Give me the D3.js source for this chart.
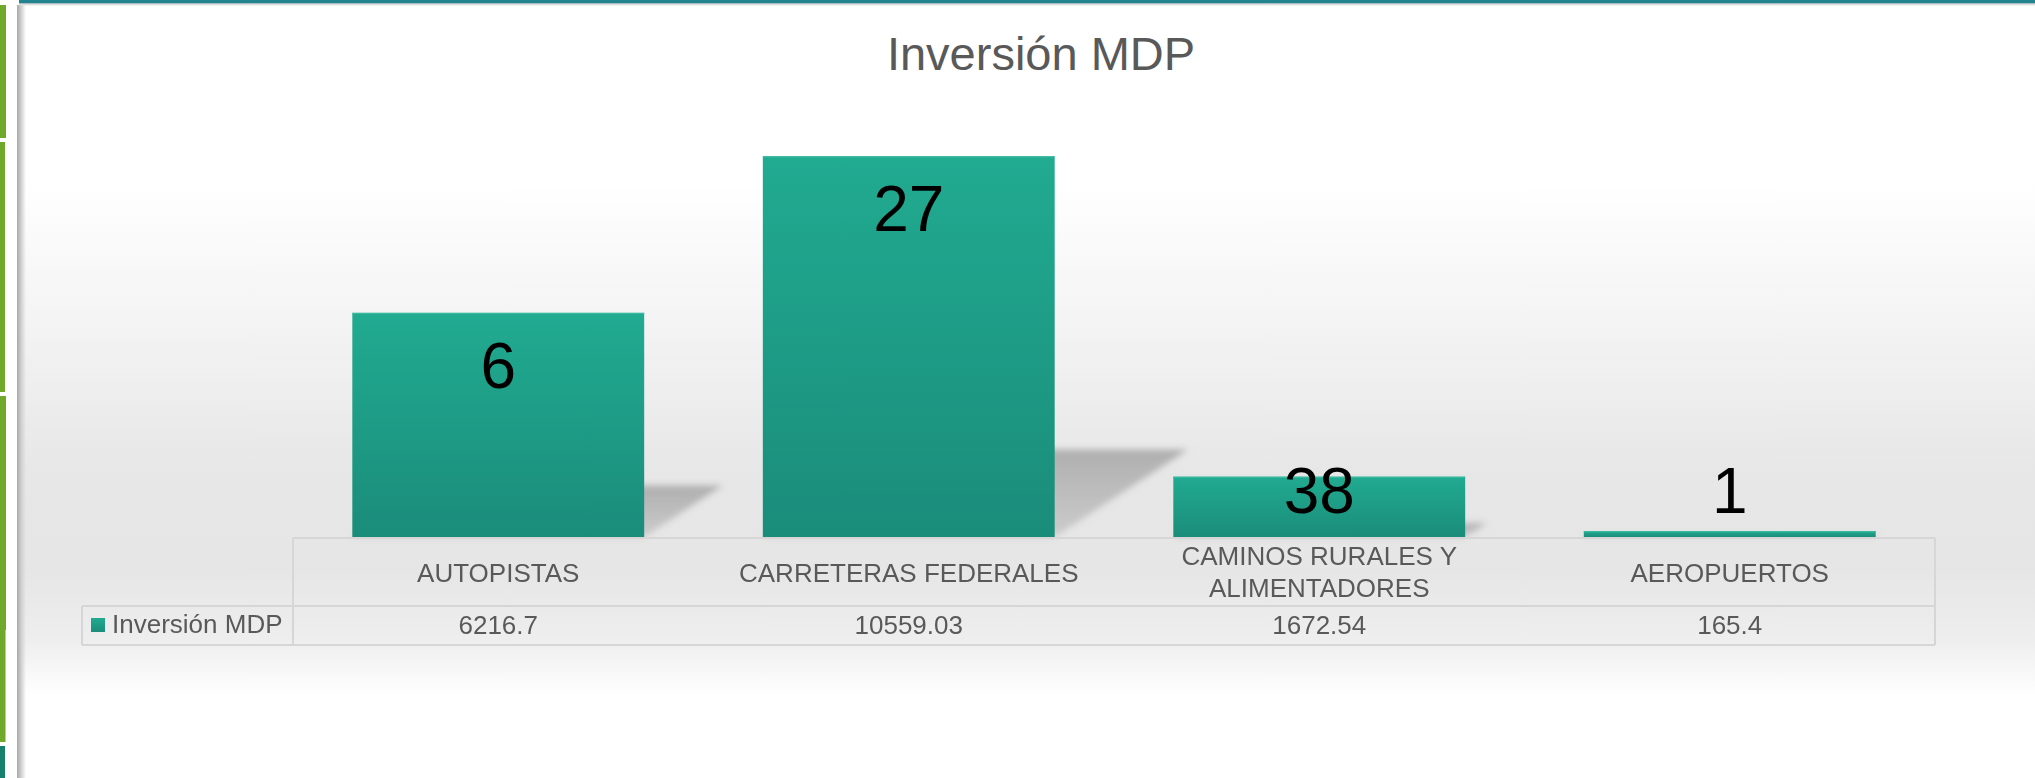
<!DOCTYPE html>
<html>
<head>
<meta charset="utf-8">
<script src="https://cdn.jsdelivr.net/npm/d3@7"></script>
<style>
  html, body { margin: 0; padding: 0; background: #fff; }
  svg { display: block; }
  text { font-family: "Liberation Sans", Arial, sans-serif; }
</style>
</head>
<body>
<svg id="chart" width="2035" height="778"></svg>
<script>
// ---- data ----
const categories = ["AUTOPISTAS", "CARRETERAS FEDERALES", "CAMINOS RURALES Y ALIMENTADORES", "AEROPUERTOS"];
const categoryLines = [["AUTOPISTAS"], ["CARRETERAS FEDERALES"], ["CAMINOS RURALES Y", "ALIMENTADORES"], ["AEROPUERTOS"]];
const values = [6216.7, 10559.03, 1672.54, 165.4];
const valueTexts = ["6216.7", "10559.03", "1672.54", "165.4"];
const barLabels = ["6", "27", "38", "1"];
const seriesName = "Inversión MDP";
const chartTitle = "Inversión MDP";
const yDomain = [0, 12000];

// ---- layout ----
const W = 2035, H = 778;
const tableLeft = 82, colLeft = 293, tableRight = 1935;
const headerTop = 538, rowTop = 606, rowBottom = 645;
const plotTop = 104.3, plotBottom = 537;

const svg = d3.select("#chart");
const defs = svg.append("defs");

// background gradient
const bg = defs.append("linearGradient").attr("id", "bgGrad")
  .attr("gradientUnits", "userSpaceOnUse").attr("x1", 0).attr("y1", 0).attr("x2", 0).attr("y2", H);
[[0, "#ffffff"], [180, "#ffffff"], [330, "#f3f3f3"], [470, "#e7e7e7"], [570, "#e6e6e6"], [640, "#eeeeee"], [695, "#ffffff"], [778, "#ffffff"]]
  .forEach(([y, c]) => bg.append("stop").attr("offset", y / H).attr("stop-color", c));

const barGrad = defs.append("linearGradient").attr("id", "barGrad")
  .attr("x1", 0).attr("y1", 0).attr("x2", 0).attr("y2", 1);
barGrad.append("stop").attr("offset", 0).attr("stop-color", "#21ab91");
barGrad.append("stop").attr("offset", 1).attr("stop-color", "#1a8c7a");

const shadowGrad = defs.append("linearGradient").attr("id", "shadowGrad")
  .attr("x1", 0).attr("y1", 0).attr("x2", 0).attr("y2", 1);
shadowGrad.append("stop").attr("offset", 0).attr("stop-color", "#a9a9a9");
shadowGrad.append("stop").attr("offset", 1).attr("stop-color", "#c9c9c9");

const blur = defs.append("filter").attr("id", "blur").attr("x", "-20%").attr("y", "-20%").attr("width", "140%").attr("height", "140%");
blur.append("feGaussianBlur").attr("stdDeviation", 3);

const leftShadow = defs.append("linearGradient").attr("id", "leftShadow")
  .attr("x1", 0).attr("y1", 0).attr("x2", 1).attr("y2", 0);
leftShadow.append("stop").attr("offset", 0).attr("stop-color", "#a8a8a8");
leftShadow.append("stop").attr("offset", 0.45).attr("stop-color", "#cfcfcf");
leftShadow.append("stop").attr("offset", 1).attr("stop-color", "#cfcfcf").attr("stop-opacity", 0);

const topShadow = defs.append("linearGradient").attr("id", "topShadow")
  .attr("x1", 0).attr("y1", 0).attr("x2", 0).attr("y2", 1);
topShadow.append("stop").attr("offset", 0).attr("stop-color", "#bdbdbd");
topShadow.append("stop").attr("offset", 1).attr("stop-color", "#e8e8e8").attr("stop-opacity", 0);

// panel background
svg.append("rect").attr("x", 17).attr("y", 3).attr("width", W - 17).attr("height", H - 3).attr("fill", "url(#bgGrad)");
svg.append("rect").attr("x", 17).attr("y", 5).attr("width", 9).attr("height", H - 5).attr("fill", "url(#leftShadow)");
svg.append("rect").attr("x", 19).attr("y", 0).attr("width", W - 19).attr("height", 3.5).attr("fill", "#22848f");
svg.append("rect").attr("x", 19).attr("y", 3.5).attr("width", W - 19).attr("height", 3).attr("fill", "url(#topShadow)");

// left decorative strip
const stripSegs = [[5, 138, "#6fa82b", 6], [142, 392, "#6fa82b", 5], [396, 630, "#6fa82b", 6], [630, 742, "#6fa82b", 5.5], [746, 778, "#16806d", 5]];
svg.append("g").selectAll("rect").data(stripSegs).join("rect")
  .attr("x", 0).attr("y", d => d[0]).attr("width", d => d[3]).attr("height", d => d[1] - d[0]).attr("fill", d => d[2]);

// scales
const x = d3.scaleBand().domain(categories).range([colLeft, tableRight]).paddingInner(0.289).paddingOuter(0.1445);
const xCol = d3.scaleBand().domain(categories).range([colLeft, tableRight]).padding(0);
const y = d3.scaleLinear().domain(yDomain).range([plotBottom, plotTop]);

// title
svg.append("text").attr("x", 1041).attr("y", 70).attr("text-anchor", "middle")
  .attr("font-size", 47).attr("fill", "#595959").text(chartTitle);

// shadows
const k = 0.35, s = 0.23;
svg.append("g").attr("filter", "url(#blur)").selectAll("path").data(categories).join("path")
  .attr("d", (c, i) => {
    const x0 = x(c), x1 = x(c) + x.bandwidth(), y0 = y(0), h = y(0) - y(values[i]);
    return `M${x0},${y0}L${x1},${y0}L${x1 + k * h},${y0 - s * h}L${x0 + k * h},${y0 - s * h}Z`;
  })
  .attr("fill", "url(#shadowGrad)").attr("opacity", 0.9);

// bars
svg.append("g").selectAll("rect").data(categories).join("rect")
  .attr("x", c => x(c)).attr("width", x.bandwidth())
  .attr("y", (c, i) => y(values[i])).attr("height", (c, i) => y(0) - y(values[i]))
  .attr("fill", "url(#barGrad)");
svg.append("g").selectAll("rect").data(categories).join("rect")
  .attr("x", c => x(c)).attr("width", x.bandwidth())
  .attr("y", (c, i) => y(values[i])).attr("height", 1.2)
  .attr("fill", "#3bbaa0");

// bar labels
svg.append("g").selectAll("text").data(categories).join("text")
  .attr("x", c => x(c) + x.bandwidth() / 2)
  .attr("y", (c, i) => Math.min(y(values[i]) + 75, y(0) - 24))
  .attr("text-anchor", "middle").attr("font-size", 64).attr("fill", "#000")
  .text((c, i) => barLabels[i]);

// data table
const lineColor = "#d6d6d6";
const tg = svg.append("g").attr("stroke", lineColor).attr("stroke-width", 2).attr("fill", "none");
tg.append("line").attr("x1", colLeft).attr("x2", tableRight).attr("y1", headerTop).attr("y2", headerTop);
tg.append("line").attr("x1", tableLeft).attr("x2", tableRight).attr("y1", rowTop).attr("y2", rowTop);
tg.append("line").attr("x1", tableLeft).attr("x2", tableRight).attr("y1", rowBottom).attr("y2", rowBottom);
tg.append("line").attr("x1", tableLeft).attr("x2", tableLeft).attr("y1", rowTop).attr("y2", rowBottom);
tg.append("line").attr("x1", colLeft).attr("x2", colLeft).attr("y1", headerTop).attr("y2", rowBottom);
tg.append("line").attr("x1", tableRight).attr("x2", tableRight).attr("y1", headerTop).attr("y2", rowBottom);

// category headers
const hg = svg.append("g").selectAll("text").data(categories).join("text")
  .attr("x", c => xCol(c) + xCol.bandwidth() / 2)
  .attr("text-anchor", "middle").attr("font-size", 26).attr("fill", "#595959");
hg.each(function (c, i) {
  const lines = categoryLines[i];
  const base = lines.length === 1 ? 582 : 565;
  d3.select(this).selectAll("tspan").data(lines).join("tspan")
    .attr("x", xCol(c) + xCol.bandwidth() / 2)
    .attr("y", (l, j) => base + j * 32)
    .text(l => l);
});

// values row
svg.append("g").selectAll("text").data(categories).join("text")
  .attr("x", c => xCol(c) + xCol.bandwidth() / 2).attr("y", 634)
  .attr("text-anchor", "middle").attr("font-size", 26).attr("fill", "#595959")
  .text((c, i) => valueTexts[i]);

// legend key
svg.append("rect").attr("x", 91).attr("y", 618).attr("width", 14).attr("height", 14).attr("fill", "url(#barGrad)");
svg.append("text").attr("x", 112).attr("y", 633).attr("font-size", 26).attr("fill", "#595959").text(seriesName);
</script>
</body>
</html>
